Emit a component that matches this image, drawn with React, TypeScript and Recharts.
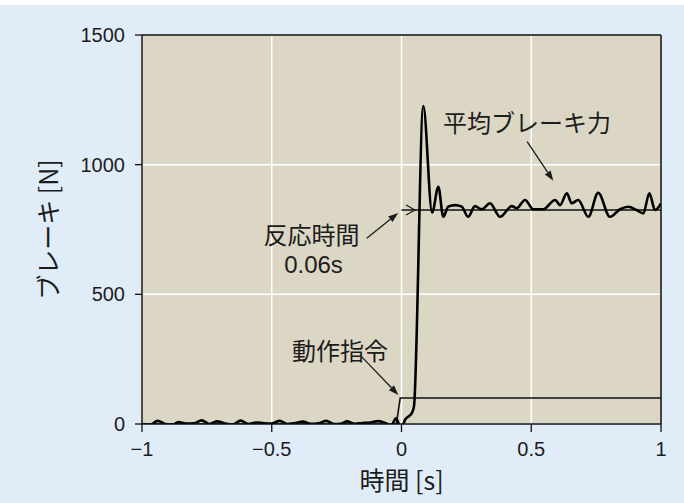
import * as React from "react";
import {
  LineChart,
  CartesianGrid,
  XAxis,
  YAxis,
  Line,
  ReferenceLine,
  ReferenceDot
} from "recharts";

// brake force trace [N] vs time [s]
const brakeTime = [
  -1, -0.97, -0.94, -0.91, -0.88, -0.86, -0.83, -0.8, -0.77, -0.74, -0.71,
  -0.68, -0.65, -0.62, -0.59, -0.56, -0.53, -0.5, -0.47, -0.44, -0.41, -0.38,
  -0.35, -0.32, -0.29, -0.26, -0.23, -0.21, -0.18, -0.15, -0.12, -0.09, -0.06,
  -0.04, -0.021, 0, 0.013, 0.03, 0.039, 0.048, 0.084, 0.118, 0.142, 0.161,
  0.18, 0.206, 0.232, 0.257, 0.283, 0.309, 0.341, 0.38, 0.425, 0.444, 0.476,
  0.508, 0.546, 0.592, 0.611, 0.637, 0.656, 0.681, 0.72, 0.758, 0.803, 0.842,
  0.874, 0.906, 0.932, 0.955, 0.977, 1
];
const brakeForce = [
  0, -4, 12, 0, -3, 8, 2, 3, 14, 0, 10,
  2, -2, 13, 0, 6, 3, 2, 12, 0, 4, 9,
  1, 3, 12, 0, 2, 10, 1, 4, 6, 11, 3,
  -6, 22, -23, 15, 31, 41, 67, 1226, 815, 915, 799,
  838, 844, 838, 799, 840, 828, 851, 799, 840, 832, 864,
  828, 828, 864, 844, 890, 851, 864, 799, 892, 799, 828,
  838, 825, 812, 890, 825, 851
];

// operation command
const cmdTime = [-1, -0.02, -0.005, 1];
const cmdValue = [0, 0, 100, 100];

// average brake force
const avgTime = [0, 1];
const avgValue = [825, 825];

const xTicks = [-1, -0.5, 0, 0.5, 1];
const xMinorTicks = [0.1, 0.2, 0.3, 0.4, 0.6, 0.7, 0.8, 0.9];
const yTicks = [0, 500, 1000, 1500];

const brakeData = brakeTime.map((t, i) => ({ t, v: brakeForce[i] }));
const cmdData = cmdTime.map((t, i) => ({ t, v: cmdValue[i] }));
const avgData = avgTime.map((t, i) => ({ t, v: avgValue[i] }));

const FONT = "'Liberation Sans', 'Noto Sans CJK JP', sans-serif";
const JP = "'Noto Sans CJK JP', 'Liberation Sans', sans-serif";
const INK = "#1c1c1c";

const fmtX = (v: number) => (v < 0 ? "\u2212" + Math.abs(v) : String(v));

function arrowShape(p: any) {
  const { x1, y1, x2, y2 } = p;
  const ang = Math.atan2(y2 - y1, x2 - x1);
  const len = 10;
  const w = 3.5;
  const bx = x2 - len * Math.cos(ang);
  const by = y2 - len * Math.sin(ang);
  const nx = -Math.sin(ang) * w;
  const ny = Math.cos(ang) * w;
  return (
    <g>
      <line x1={x1} y1={y1} x2={bx} y2={by} stroke={INK} strokeWidth={1.3} />
      <path
        d={`M${x2},${y2} L${bx + nx},${by + ny} L${bx - nx},${by - ny} Z`}
        fill={INK}
      />
    </g>
  );
}

function textShape(label: string, family: string, size: number) {
  return (p: any) => (
    <text
      x={p.cx}
      y={p.cy}
      dy="0.35em"
      textAnchor="middle"
      fontFamily={family}
      fontSize={size}
      fill={INK}
    >
      {label}
    </text>
  );
}

function chevron(p: any) {
  const { cx, cy } = p;
  return (
    <path
      d={`M${cx - 9},${cy - 5} L${cx},${cy} L${cx - 9},${cy + 5}`}
      fill="none"
      stroke={INK}
      strokeWidth={1.2}
    />
  );
}

export default function App() {
  return (
    <div
      style={{
        position: "absolute",
        left: 0,
        top: 0,
        width: 684,
        height: 503,
        background: "#e0edf9"
      }}
    >
      <div
        style={{ position: "absolute", left: 0, top: 0, width: 684, height: 5, background: "#fff" }}
      />
      <LineChart
        width={684}
        height={503}
        margin={{ top: 35, right: 23, left: 0, bottom: 0 }}
      >
        <CartesianGrid fill="#dcd7c4" fillOpacity={1} stroke="#ffffff" strokeWidth={1.5} />
        <XAxis
          dataKey="t"
          type="number"
          domain={[-1, 1]}
          ticks={xTicks}
          tickFormatter={fmtX}
          height={79}
          tickSize={8}
          tickMargin={10}
          axisLine={{ stroke: "#111", strokeWidth: 1.5 }}
          tickLine={{ stroke: "#111", strokeWidth: 1.3 }}
          tick={{ fill: INK, fontSize: 20, fontFamily: FONT }}
          allowDataOverflow
          label={{
            content: (p: any) => (
              <text
                x={p.viewBox.x + p.viewBox.width / 2}
                y={479}
                textAnchor="middle"
                dominantBaseline="central"
                fontFamily={JP}
                fontSize={25}
                fill={INK}
              >
                時間 [s]
              </text>
            )
          }}
        />
        <XAxis
          xAxisId="minor"
          dataKey="t"
          type="number"
          domain={[-1, 1]}
          ticks={xMinorTicks}
          mirror
          tickSize={5}
          axisLine={false}
          tickLine={{ stroke: "#111", strokeWidth: 1.2 }}
          tick={() => <g />}
        />
        <YAxis
          type="number"
          domain={[0, 1500]}
          ticks={yTicks}
          width={142}
          tickSize={7}
          tickMargin={10}
          allowDataOverflow
          axisLine={{ stroke: "#111", strokeWidth: 1.5 }}
          tickLine={{ stroke: "#111", strokeWidth: 1.3 }}
          tick={{ fill: INK, fontSize: 20, fontFamily: FONT }}
          label={{
            content: (p: any) => {
              const cy = p.viewBox.y + p.viewBox.height / 2;
              return (
                <text
                  x={47}
                  y={cy}
                  transform={`rotate(-90 47 ${cy})`}
                  textAnchor="middle"
                  dominantBaseline="central"
                  fontFamily={JP}
                  fontSize={25}
                  fill={INK}
                >
                  ブレーキ [N]
                </text>
              );
            }
          }}
        />
        <ReferenceLine y={1500} stroke="#444" strokeWidth={2} />
        <ReferenceLine x={1} stroke="#444" strokeWidth={2} />
        <Line
          data={cmdData}
          dataKey="v"
          type="linear"
          stroke="#111"
          strokeWidth={1.6}
          dot={false}
          isAnimationActive={false}
        />
        <Line
          data={avgData}
          dataKey="v"
          type="linear"
          stroke="#111"
          strokeWidth={1.6}
          dot={false}
          isAnimationActive={false}
        />
        <Line
          data={brakeData}
          dataKey="v"
          type="monotone"
          stroke="#000"
          strokeWidth={2.6}
          dot={false}
          isAnimationActive={false}
        />
        <ReferenceDot x={0.052} y={825} r={0} shape={chevron} />
        <ReferenceLine
          segment={[{ x: 0.484, y: 1089 }, { x: 0.585, y: 938 }]}
          shape={arrowShape}
        />
        <ReferenceLine
          segment={[{ x: -0.134, y: 716 }, { x: -0.013, y: 814 }]}
          shape={arrowShape}
        />
        <ReferenceLine
          segment={[{ x: -0.153, y: 259 }, { x: -0.012, y: 112 }]}
          shape={arrowShape}
        />
        <ReferenceDot x={0.484} y={1157} r={0} shape={textShape("平均ブレーキ力", JP, 24)} />
        <ReferenceDot x={-0.347} y={726} r={0} shape={textShape("反応時間", JP, 24)} />
        <ReferenceDot x={-0.339} y={613} r={0} shape={textShape("0.06s", FONT, 24)} />
        <ReferenceDot x={-0.237} y={278} r={0} shape={textShape("動作指令", JP, 24)} />
      </LineChart>
    </div>
  );
}
